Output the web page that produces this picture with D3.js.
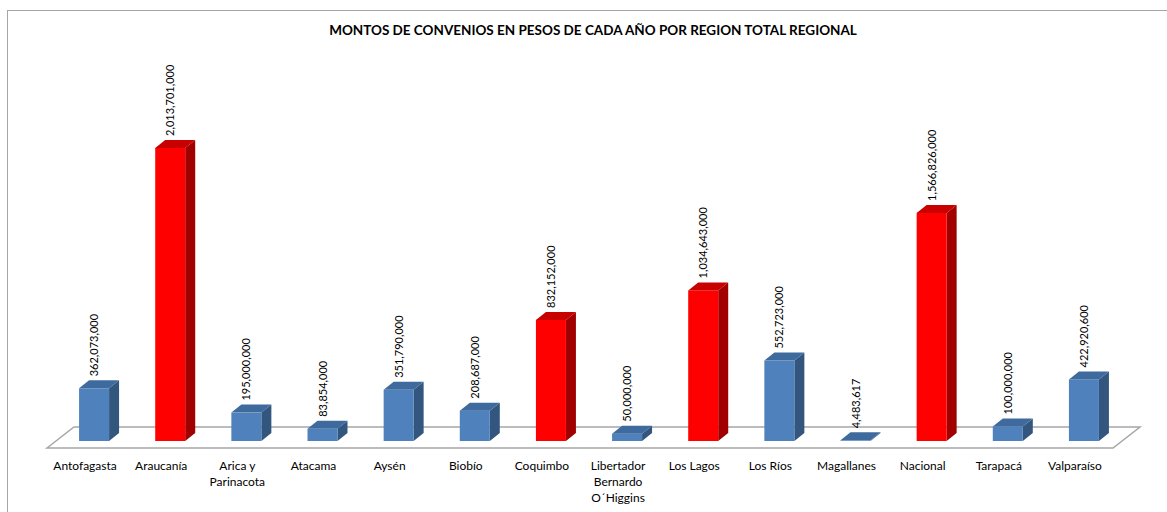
<!DOCTYPE html>
<html>
<head>
<meta charset="utf-8">
<script src="https://cdn.jsdelivr.net/npm/d3@7"></script>
<style>
  html, body { margin: 0; padding: 0; background: #fff; }
  svg { display: block; }
</style>
</head>
<body>
<svg id="chart" width="1167" height="512"></svg>
<script>
// ---- data ----
const titleText = "MONTOS DE CONVENIOS EN PESOS DE CADA AÑO POR REGION TOTAL REGIONAL";
const categories = ["Antofagasta", "Araucanía", "Arica y Parinacota", "Atacama", "Aysén", "Biobío",
  "Coquimbo", "Libertador Bernardo O´Higgins", "Los Lagos", "Los Ríos", "Magallanes",
  "Nacional", "Tarapacá", "Valparaíso"];
const tickLabels = [["Antofagasta"], ["Araucanía"], ["Arica y", "Parinacota"], ["Atacama"], ["Aysén"],
  ["Biobío"], ["Coquimbo"], ["Libertador", "Bernardo", "O´Higgins"], ["Los Lagos"], ["Los Ríos"],
  ["Magallanes"], ["Nacional"], ["Tarapacá"], ["Valparaíso"]];
const values = [362073000, 2013701000, 195000000, 83854000, 351790000, 208687000,
  832152000, 50000000, 1034643000, 552723000, 4483617, 1566826000, 100000000, 422920600];
const highlighted = ["Araucanía", "Coquimbo", "Los Lagos", "Nacional"];

// ---- layout ----
const svg = d3.select("#chart");
const base = 441;            // front bottom of bars
const floorFront = 448, floorBack = 427;
const floorLeft = 47, floorRight = 1113, floorDx = 27;
const depthDx = 10, depthDy = 8;
const barW = 30;

const x = d3.scaleBand().domain(categories).range([floorLeft, floorRight]).padding(0);
const y = d3.scaleLinear().domain([0, 2500000000]).range([base, base - 363.8]);

const colors = {
  blue: { front: "#4F81BD", top: "#3E6A9E", side: "#33567F" },
  red:  { front: "#FF0000", top: "#C80000", side: "#A00000" }
};

// frame
svg.append("rect")
  .attr("x", 7.5).attr("y", 10.5).attr("width", 1300).attr("height", 600)
  .attr("fill", "#fff").attr("stroke", "#A6A6A6").attr("stroke-width", 1);

// title
svg.append("text")
  .attr("x", 593).attr("y", 35)
  .attr("text-anchor", "middle")
  .attr("font-family", "Lato, 'Open Sans', sans-serif")
  .attr("font-weight", "bold")
  .attr("font-size", 13.5)
  .attr("fill", "#000")
  .text(titleText);

// floor
svg.append("polygon")
  .attr("points", [
    [floorLeft, floorFront], [floorLeft + floorDx, floorBack],
    [floorRight + floorDx, floorBack], [floorRight, floorFront]
  ].map(p => p.join(",")).join(" "))
  .attr("fill", "#fff").attr("stroke", "#A6A6A6").attr("stroke-width", 1.5);

// bars
const data = categories.map((c, i) => ({ c, v: values[i], red: highlighted.includes(c) }));
const g = svg.append("g");
const bars = g.selectAll("g.bar").data(data).enter().append("g").attr("class", "bar");

bars.each(function(d) {
  const sel = d3.select(this);
  const cx = x(d.c) + x.bandwidth() / 2 + 9;
  const x0 = cx - barW / 2, x1 = cx + barW / 2;
  const yt = y(d.v);
  const col = d.red ? colors.red : colors.blue;
  // side
  sel.append("polygon")
    .attr("points", [[x1, yt], [x1 + depthDx, yt - depthDy], [x1 + depthDx, base - depthDy], [x1, base]]
      .map(p => p.join(",")).join(" "))
    .attr("fill", col.side);
  // front
  sel.append("rect")
    .attr("x", x0).attr("y", yt).attr("width", barW).attr("height", base - yt)
    .attr("fill", col.front);
  // top
  sel.append("polygon")
    .attr("points", [[x0, yt], [x0 + depthDx, yt - depthDy], [x1 + depthDx, yt - depthDy], [x1, yt]]
      .map(p => p.join(",")).join(" "))
    .attr("fill", col.top);
  // value label
  sel.append("text")
    .attr("transform", `translate(${cx + 4},${yt - 12}) rotate(-90)`)
    .attr("text-anchor", "start")
    .attr("font-family", "Lato, 'Open Sans', sans-serif")
    .attr("font-size", 11)
    .attr("fill", "#000")
    .text(d3.format(",")(d.v));
});

// category labels
const labels = svg.append("g").selectAll("text").data(categories).enter().append("text")
  .attr("x", d => x(d) + x.bandwidth() / 2)
  .attr("y", 470)
  .attr("text-anchor", "middle")
  .attr("font-family", "Lato, 'Open Sans', sans-serif")
  .attr("font-size", 12)
  .attr("fill", "#000");
labels.each(function(d, i) {
  const t = d3.select(this);
  tickLabels[i].forEach((line, j) => {
    t.append("tspan").attr("x", x(d) + x.bandwidth() / 2).attr("dy", j === 0 ? 0 : 16).text(line);
  });
});
</script>
</body>
</html>
